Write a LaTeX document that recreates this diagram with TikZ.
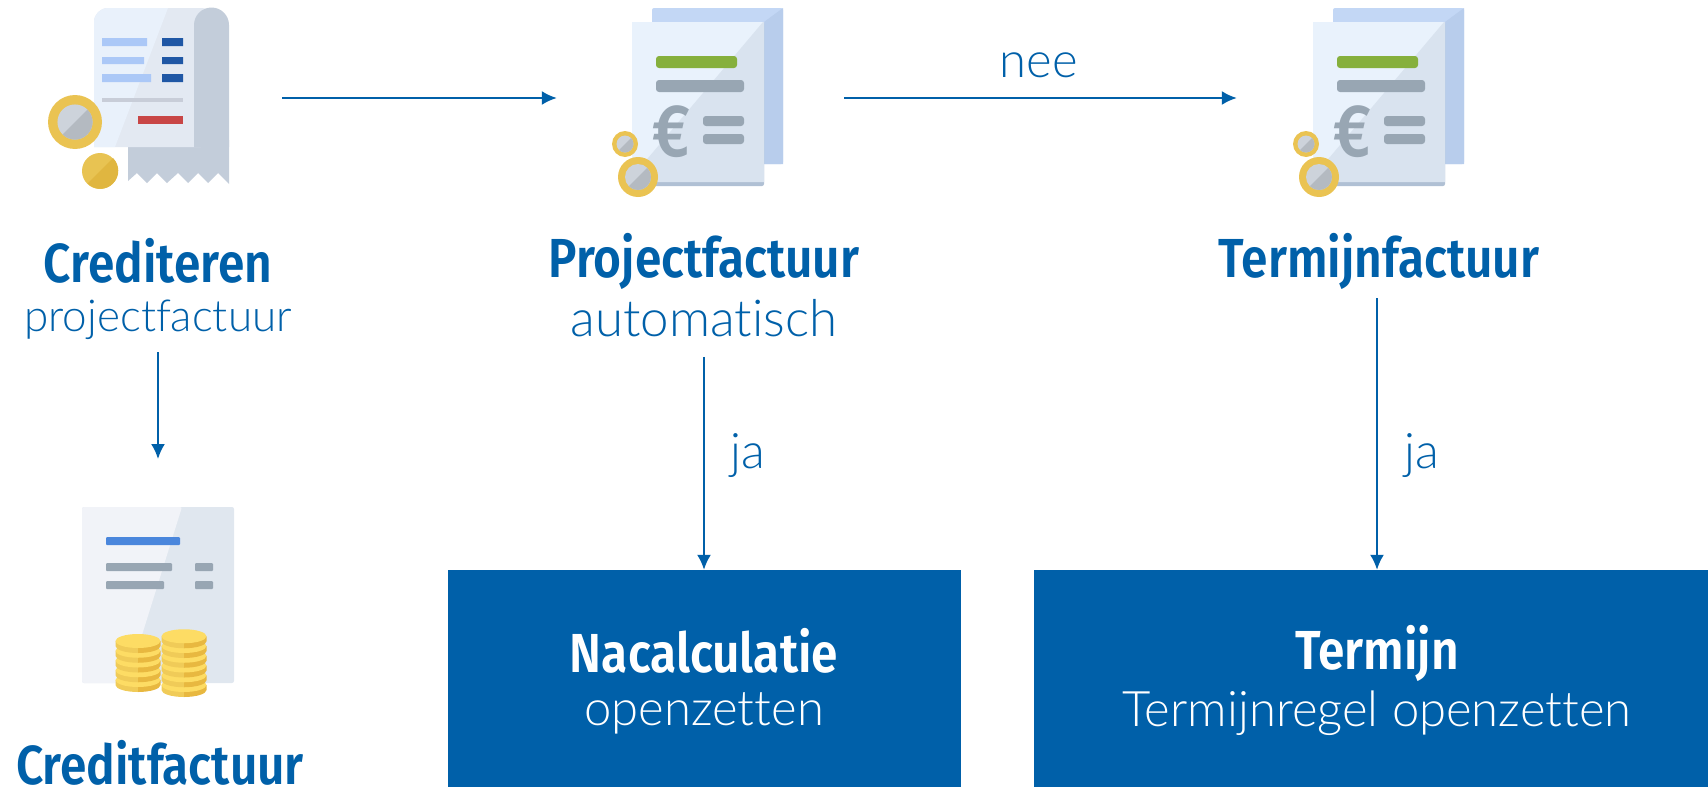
\documentclass[tikz,border=0pt]{standalone}
\usepackage{fontspec}
\setmainfont[Ligatures=NoCommon]{Lato Light}
\newfontfamily\kopfont[FakeStretch=0.87]{Fira Sans SemiBold}
\usetikzlibrary{arrows.meta}
\definecolor{kleurblauw}{HTML}{0060A9}
\definecolor{muntgeel}{HTML}{EAC352}
\definecolor{muntgrijs}{HTML}{CDD3DB}
\definecolor{balkgrijs}{HTML}{98A6B3}
\tikzset{
	kop/.style={text=kleurblauw, font=\kopfont\fontsize{55}{60}\selectfont, inner sep=0pt},
	sub/.style={text=kleurblauw, font=\fontsize{49}{54}\selectfont, inner sep=0pt},
	label/.style={text=kleurblauw, font=\fontsize{49}{54}\selectfont, inner sep=0pt},
	blok/.style={fill=kleurblauw, inner sep=0pt, minimum height=217pt},
	icoon/.style={inner sep=0pt, minimum height=170pt},
	pijl/.style={kleurblauw, line width=2pt, -{Latex[length=15pt,width=14pt]}},
	munt/.pic={
		\fill[muntgeel] (0,0) circle (#1);
		\fill[muntgrijs] (0,0) circle (0.65*#1);
		\fill[black!12!muntgrijs] (-45:0.65*#1) arc (-45:135:0.65*#1) -- cycle;
	},
	factuur/.pic={
		\fill[fill={rgb,255:red,195;green,215;blue,245}, rounded corners=2pt] (20,-14) rectangle (151,142);
		\fill[fill={rgb,255:red,184;green,205;blue,236}] (132,0) -- (151,-14) -- (151,142) -- (132,142) -- cycle;
		\fill[fill={rgb,255:red,176;green,192;blue,212}, rounded corners=2pt] (0,0) rectangle (132,164);
		\fill[fill={rgb,255:red,233;green,242;blue,252}] (0,0) rectangle (132,160);
		\fill[fill={rgb,255:red,217;green,227;blue,239}] (131,0) -- (132,0) -- (132,160) -- (0,160) -- (0,155) -- cycle;
		\fill[fill={rgb,255:red,134;green,176;blue,60}, rounded corners=3pt] (24,34) rectangle (105,46);
		\fill[balkgrijs, rounded corners=3pt] (24,58) rectangle (112,70);
		\fill[balkgrijs, rounded corners=3pt] (71,94) rectangle (112,104);
		\fill[balkgrijs, rounded corners=3pt] (71,112) rectangle (112,122);
		\node[text=balkgrijs, inner sep=0pt, font=\kopfont\fontsize{74}{74}\selectfont] at (39,110) {€};
		\pic at (-7,122) {munt=13};
		\pic at (6,155) {munt=20};
	},
	stapel/.pic={
		\foreach \laag in {0,...,#1} {
			\fill[fill={rgb,255:red,240;green,203;blue,88}] (-22.5,-\laag*9.75+5) arc (180:90:22.5 and 7) -- (0,-\laag*9.75) -- (-22.5,-\laag*9.75) -- cycle;
			\fill[fill={rgb,255:red,232;green,184;blue,64}] (22.5,-\laag*9.75+5) arc (0:90:22.5 and 7) -- (0,-\laag*9.75) -- (22.5,-\laag*9.75) -- cycle;
			\fill[fill={rgb,255:red,253;green,220;blue,100}] (0,-\laag*9.75) ellipse (22.5 and 7);
		}
	}
}
\begin{document}
\begin{tikzpicture}[x=1pt, y=-1pt]
	\useasboundingbox (0,0) rectangle (1708,787);

	% crediteren icoon
	\fill[fill={rgb,255:red,195;green,205;blue,218}] (128,140) -- (229,140) -- (229,184) -- (218,173) -- (208,183) -- (198,173) -- (188,183) -- (178,173) -- (167,183) -- (157,173) -- (147,183) -- (137,173) -- (128,181) -- cycle;
	\fill[fill={rgb,255:red,227;green,233;blue,242}, rounded corners=14pt] (94,147) -- (94,8) -- (215,8) -- (215,147) [sharp corners] -- cycle;
	\fill[fill={rgb,255:red,233;green,241;blue,251}, rounded corners=14pt] (115,147) [sharp corners] -- (94,147) [rounded corners=14pt] -- (94,8) [sharp corners] -- (168,8) -- cycle;
	\fill[fill={rgb,255:red,195;green,205;blue,218}] (194,147) -- (194,25) arc (180:270:17.5) arc (270:360:17.5) -- (229,147) -- cycle;
	\fill[fill={rgb,255:red,171;green,200;blue,247}] (102,38) rectangle (147,46) (102,57) rectangle (144,64) (102,74) rectangle (151,82);
	\fill[fill={rgb,255:red,31;green,87;blue,165}] (162,38) rectangle (183,46) (162,57) rectangle (183,64) (162,74) rectangle (183,82);
	\fill[fill={rgb,255:red,200;green,205;blue,216}] (102,98) rectangle (183,102);
	\fill[fill={rgb,255:red,200;green,70;blue,70}] (138,116) rectangle (183,124);
	\pic at (75,122) {munt=27};
	\fill[fill={rgb,255:red,232;green,195;blue,82}] (100,171) circle (18);
	\fill[fill={rgb,255:red,224;green,182;blue,64}] (113,158) arc (-45:135:18) -- cycle;

	% project en termijn icoon
	\pic at (632,22) {factuur};
	\pic at (1313,22) {factuur};

	% credit icoon
	\fill[fill={rgb,255:red,224;green,231;blue,239}, rounded corners=2pt] (82,507) rectangle (234,683);
	\fill[fill={rgb,255:red,241;green,243;blue,248}, rounded corners=2pt] (127,683) -- (82,683) -- (82,507) -- (182,507) -- cycle;
	\fill[fill={rgb,255:red,74;green,134;blue,220}, rounded corners=1pt] (106,537) rectangle (180,545);
	\fill[balkgrijs, rounded corners=1pt] (106,563) rectangle (172,571) (195,563) rectangle (213,571) (106,581) rectangle (164,589) (195,581) rectangle (213,589);
	\pic at (138,680) {stapel=4};
	\pic at (184,685) {stapel=5};

	% onzichtbare knopen voor de pijlen
	\node[icoon, minimum width=248pt] (crediticon) at (158,98) {};
	\node[icoon, minimum width=287pt] (projecticon) at (700.5,98) {};
	\node[icoon, minimum width=280pt] (termijnicon) at (1377,98) {};

	\node[kop] (crediteren) at (158,261) {Crediteren};
	\node[sub, font=\fontsize{44}{50}\selectfont] (projectsub) at (158,320) {projectfactuur};
	\node[kop] (creditfactuur) at (160,763) {Creditfactuur};
	\node[kop] (projectfactuur) at (704,261) {Projectfactuur};
	\node[sub, font=\fontsize{51}{56}\selectfont] (automatisch) at (704,318) {automatisch};
	\node[kop] (termijnfactuur) at (1379,261) {Termijnfactuur};

	\node[blok, minimum width=513pt] (nacalculatie) at (704.5,678.5) {};
	\node[blok, minimum width=674pt] (termijn) at (1371,678.5) {};
	\node[kop, text=white] (nacalkop) at (704,651) {Nacalculatie};
	\node[sub, text=white] (nacalsub) at (704,713) {openzetten};
	\node[kop, text=white] (termijnkop) at (1377,653) {Termijn};
	\node[sub, text=white] (termijnsub) at (1377,713) {Termijnregel openzetten};

	\node[label] (nee) at (1039,65) {nee};
	\node[label] (jalinks) at (748,456) {ja};
	\node[label] (jarechts) at (1422,456) {ja};

	\coordinate (creditpunt) at (158,459);
	\draw[pijl] (crediticon.east) -- (projecticon.west);
	\draw[pijl] (projecticon.east) -- (termijnicon.west);
	\draw[pijl, shorten <=12pt] (projectsub.south -| creditpunt) -- (creditpunt);
	\draw[pijl, shorten <=20pt] (automatisch.south) -- (nacalculatie.north -| automatisch.south);
	\draw[pijl, shorten <=9pt] (termijnfactuur.south -| termijnkop.north) -- (termijnkop.north |- termijn.north);
\end{tikzpicture}
\end{document}
